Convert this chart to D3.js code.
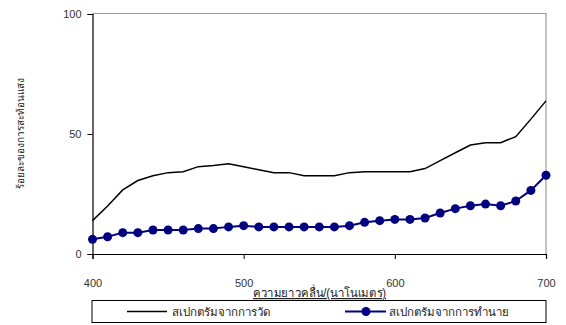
<!DOCTYPE html>
<html><head><meta charset="utf-8">
<script src="https://cdn.jsdelivr.net/npm/d3@7"></script>
<style>
html,body{margin:0;padding:0;background:#fff;}
text{font-family:"Liberation Sans",Arial,sans-serif;}
</style></head>
<body><svg id="c" width="566" height="325"></svg>
<script>
const wavelengths = [400,410,420,430,440,450,460,470,480,490,500,510,520,530,540,550,560,570,580,590,600,610,620,630,640,650,660,670,680,690,700];
const measured = [13.9,20.0,26.7,30.6,32.6,33.9,34.3,36.4,36.9,37.6,36.4,35.1,33.9,33.9,32.6,32.6,32.6,33.9,34.3,34.3,34.3,34.3,35.6,38.9,42.2,45.4,46.4,46.4,48.9,56.2,63.8];
const predicted = [6.1,7.2,8.9,8.9,10.0,10.0,10.0,10.6,10.6,11.3,11.8,11.3,11.3,11.3,11.3,11.3,11.3,11.8,13.2,13.9,14.4,14.4,15.0,17.1,18.9,20.1,20.8,20.1,22.1,26.5,32.8];
const xTicks = [400,500,600,700];
const yTicks = [0,50,100];
const seriesNames = ["สเปกตรัมจากการวัด","สเปกตรัมจากการทำนาย"];
const xTitle = "ความยาวคลื่น/(นาโนเมตร)";
const yTitle = "ร้อยละของการสะท้อนแสง";

const svg = d3.select("#c");
const L = 92.5, R = 546, T = 14, B = 254;
const x = d3.scaleLinear().domain([400,700]).range([L,R]);
const y = d3.scaleLinear().domain([0,100]).range([B,T]);

// plot frame (top/right gray)
svg.append("path").attr("d",`M${L},${T-0.5}H${R}V${B}`).attr("fill","none").attr("stroke","#999").attr("stroke-width",1.2);

// axes
const xa = svg.append("g").attr("transform",`translate(0,${B})`)
  .call(d3.axisBottom(x).tickValues(xTicks).tickSize(5).tickPadding(20).tickFormat(d3.format("d")));
const ya = svg.append("g").attr("transform",`translate(${L},0)`)
  .call(d3.axisLeft(y).tickValues(yTicks).tickSize(5).tickPadding(6));
[xa,ya].forEach(g=>{
  g.select(".domain").attr("stroke","#000").attr("stroke-width",1.2);
  g.selectAll(".tick line").attr("stroke","#000");
  g.selectAll("text").attr("font-size",11).attr("fill","#333").attr("font-family","'Liberation Sans',Arial,sans-serif");
});

// lines
const line = d3.line().x((d,i)=>x(wavelengths[i])).y(d=>y(d));
svg.append("path").datum(measured).attr("d",line).attr("fill","none").attr("stroke","#000").attr("stroke-width",1.5);
svg.append("path").datum(predicted).attr("d",line).attr("fill","none").attr("stroke","#000080").attr("stroke-width",2);
svg.selectAll("circle.p").data(predicted).enter().append("circle").attr("class","p")
  .attr("cx",(d,i)=>x(wavelengths[i])).attr("cy",d=>y(d)).attr("r",4.5).attr("fill","#000080");

// titles
svg.append("text").attr("x",253).attr("y",297).attr("font-size",12).attr("fill","#222")
  .attr("textLength",133).attr("lengthAdjust","spacingAndGlyphs")
  .attr("text-decoration","underline").text(xTitle);
svg.append("text").attr("transform","translate(24,133) rotate(-90)").attr("text-anchor","middle")
  .attr("font-size",10).attr("fill","#222").text(yTitle);

// legend
svg.append("rect").attr("x",92).attr("y",300.5).attr("width",454).attr("height",22).attr("fill","#fff").attr("stroke","#000").attr("stroke-width",1);
const ly = 311.5;
svg.append("line").attr("x1",127).attr("x2",167).attr("y1",ly).attr("y2",ly).attr("stroke","#000").attr("stroke-width",1.5);
svg.append("text").attr("x",172).attr("y",ly+4).attr("font-size",11.5).attr("fill","#222").text(seriesNames[0]);
svg.append("line").attr("x1",345).attr("x2",386).attr("y1",ly).attr("y2",ly).attr("stroke","#000080").attr("stroke-width",2);
svg.append("circle").attr("cx",366).attr("cy",ly).attr("r",4.5).attr("fill","#000080");
svg.append("text").attr("x",389).attr("y",ly+4).attr("font-size",11.5).attr("fill","#222").text(seriesNames[1]);
</script></body></html>
